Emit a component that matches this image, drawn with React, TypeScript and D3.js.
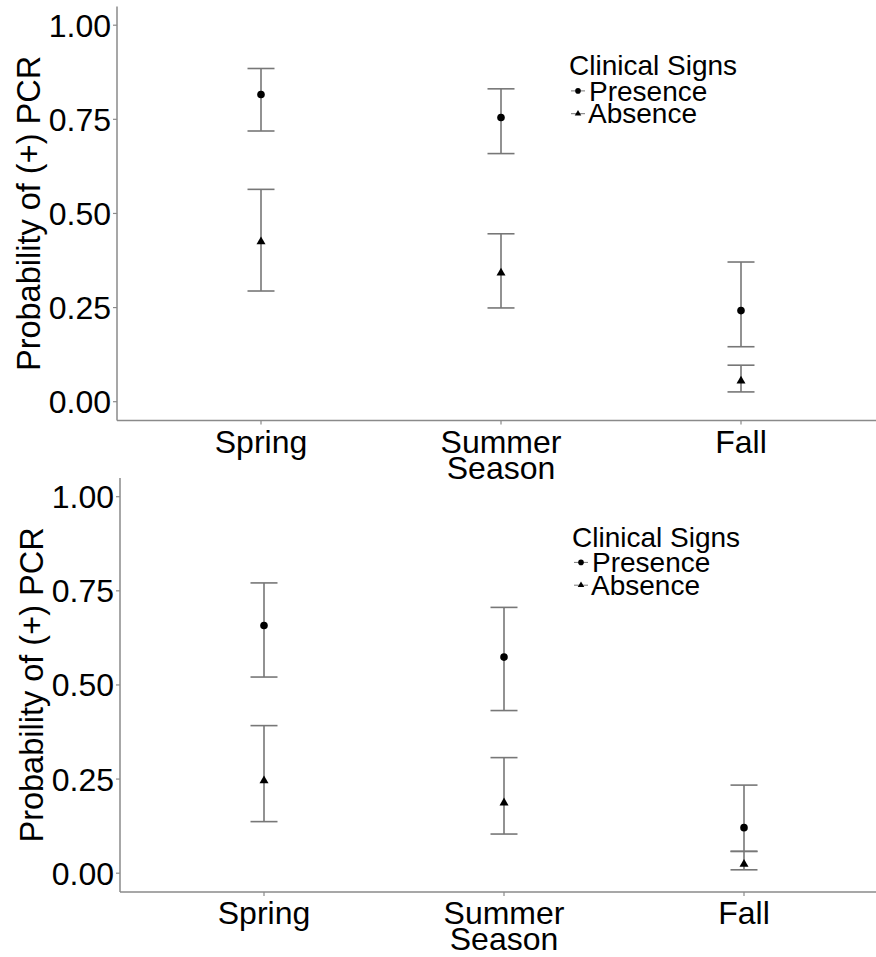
import React from "react";
import * as d3 from "d3";

const seasons = ["Spring", "Summer", "Fall"];
const yTicks = [0, 0.25, 0.5, 0.75, 1];

// Panel A (top)
const presenceA = [0.816, 0.755, 0.242];
const presenceALo = [0.719, 0.659, 0.146];
const presenceAHi = [0.885, 0.831, 0.371];
const absenceA = [0.425, 0.342, 0.055];
const absenceALo = [0.294, 0.249, 0.026];
const absenceAHi = [0.564, 0.446, 0.097];

// Panel B (bottom)
const presenceB = [0.658, 0.574, 0.121];
const presenceBLo = [0.521, 0.432, 0.058];
const presenceBHi = [0.771, 0.706, 0.234];
const absenceB = [0.246, 0.187, 0.024];
const absenceBLo = [0.137, 0.104, 0.009];
const absenceBHi = [0.392, 0.307, 0.058];

const FONT = "'Liberation Sans', Arial, Helvetica, sans-serif";
const BAR = "#777";
const AXIS = "#8a8a8a";

type Series = { v: number[]; lo: number[]; hi: number[]; shape: "circle" | "triangle" };

function tri(cx: number, cy: number, s: number) {
  const h = (s * Math.sqrt(3)) / 2;
  return `M${cx},${cy - (2 * h) / 3}L${cx + s / 2},${cy + h / 3}L${cx - s / 2},${cy + h / 3}Z`;
}

function Panel({ left, top, series }: { left: number; top: number; series: Series[] }) {
  const unit = 376.5;
  const y = d3.scaleLinear().domain([0, 1]).range([top + unit, top]);
  const x = d3.scalePoint<string>().domain(seasons).range([left, left + 768]).padding(0.6);
  const axisBottom = y(-0.05);
  const axisTop = y(1.05);
  return (
    <g>
      <line x1={left} x2={876} y1={axisBottom} y2={axisBottom} stroke={AXIS} strokeWidth={1.5} />
      <line x1={left} x2={left} y1={axisTop} y2={axisBottom} stroke={AXIS} strokeWidth={1.5} />
      {yTicks.map((t) => (
        <g key={t}>
          <line x1={left - 4} x2={left} y1={y(t)} y2={y(t)} stroke={AXIS} strokeWidth={1.2} />
          <text x={left - 6} y={y(t)} dy="0.36em" textAnchor="end" fontSize={32} fontFamily={FONT} fill="#000">
            {t.toFixed(2)}
          </text>
        </g>
      ))}
      {seasons.map((s) => (
        <g key={s}>
          <line x1={x(s)} x2={x(s)} y1={axisBottom} y2={axisBottom + 4} stroke={AXIS} strokeWidth={1.2} />
          <text x={x(s)} y={axisBottom + 32} textAnchor="middle" fontSize={32} fontFamily={FONT} fill="#000">
            {s}
          </text>
        </g>
      ))}
      <text x={x("Summer")} y={axisBottom + 58} textAnchor="middle" fontSize={32} fontFamily={FONT} fill="#000">
        Season
      </text>
      <text
        transform={`translate(${left - 77},${y(0.5)}) rotate(-90)`}
        textAnchor="middle"
        fontSize={32.5}
        fontFamily={FONT}
        fill="#000"
      >
        Probability of (+) PCR
      </text>
      {series.map((ser, si) =>
        seasons.map((s, i) => {
          const cx = x(s) as number;
          return (
            <g key={`${si}-${i}`}>
              <line x1={cx} x2={cx} y1={y(ser.lo[i])} y2={y(ser.hi[i])} stroke={BAR} strokeWidth={1.6} />
              <line x1={cx - 13.5} x2={cx + 13.5} y1={y(ser.lo[i])} y2={y(ser.lo[i])} stroke={BAR} strokeWidth={1.6} />
              <line x1={cx - 13.5} x2={cx + 13.5} y1={y(ser.hi[i])} y2={y(ser.hi[i])} stroke={BAR} strokeWidth={1.6} />
              {ser.shape === "circle" ? (
                <circle cx={cx} cy={y(ser.v[i])} r={3.8} fill="#000" />
              ) : (
                <path d={tri(cx, y(ser.v[i]), 9)} fill="#000" />
              )}
            </g>
          );
        })
      )}
      <g transform={`translate(${left + 452},${top + 50})`}>
        <text x={0} y={0} fontSize={28} fontFamily={FONT} fill="#000">
          Clinical Signs
        </text>
        <line x1={2} x2={16} y1={15.7} y2={15.7} stroke={BAR} strokeWidth={1} />
        <circle cx={9} cy={15.7} r={2.8} fill="#000" />
        <text x={20} y={25.7} fontSize={28} fontFamily={FONT} fill="#000">
          Presence
        </text>
        <line x1={2} x2={16} y1={38.5} y2={38.5} stroke={BAR} strokeWidth={1} />
        <path d={tri(9, 38.5, 6.5)} fill="#000" />
        <text x={19} y={48.3} fontSize={28} fontFamily={FONT} fill="#000">
          Absence
        </text>
      </g>
    </g>
  );
}

export default function App() {
  const seriesA: Series[] = [
    { v: presenceA, lo: presenceALo, hi: presenceAHi, shape: "circle" },
    { v: absenceA, lo: absenceALo, hi: absenceAHi, shape: "triangle" },
  ];
  const seriesB: Series[] = [
    { v: presenceB, lo: presenceBLo, hi: presenceBHi, shape: "circle" },
    { v: absenceB, lo: absenceBLo, hi: absenceBHi, shape: "triangle" },
  ];
  return (
    <svg width={876} height={957} style={{ position: "absolute", left: 0, top: 0, background: "#fff" }}>
      <rect width={876} height={957} fill="#fff" />
      <Panel left={117} top={25.2} series={seriesA} />
      <Panel left={120} top={496.7} series={seriesB} />
    </svg>
  );
}
